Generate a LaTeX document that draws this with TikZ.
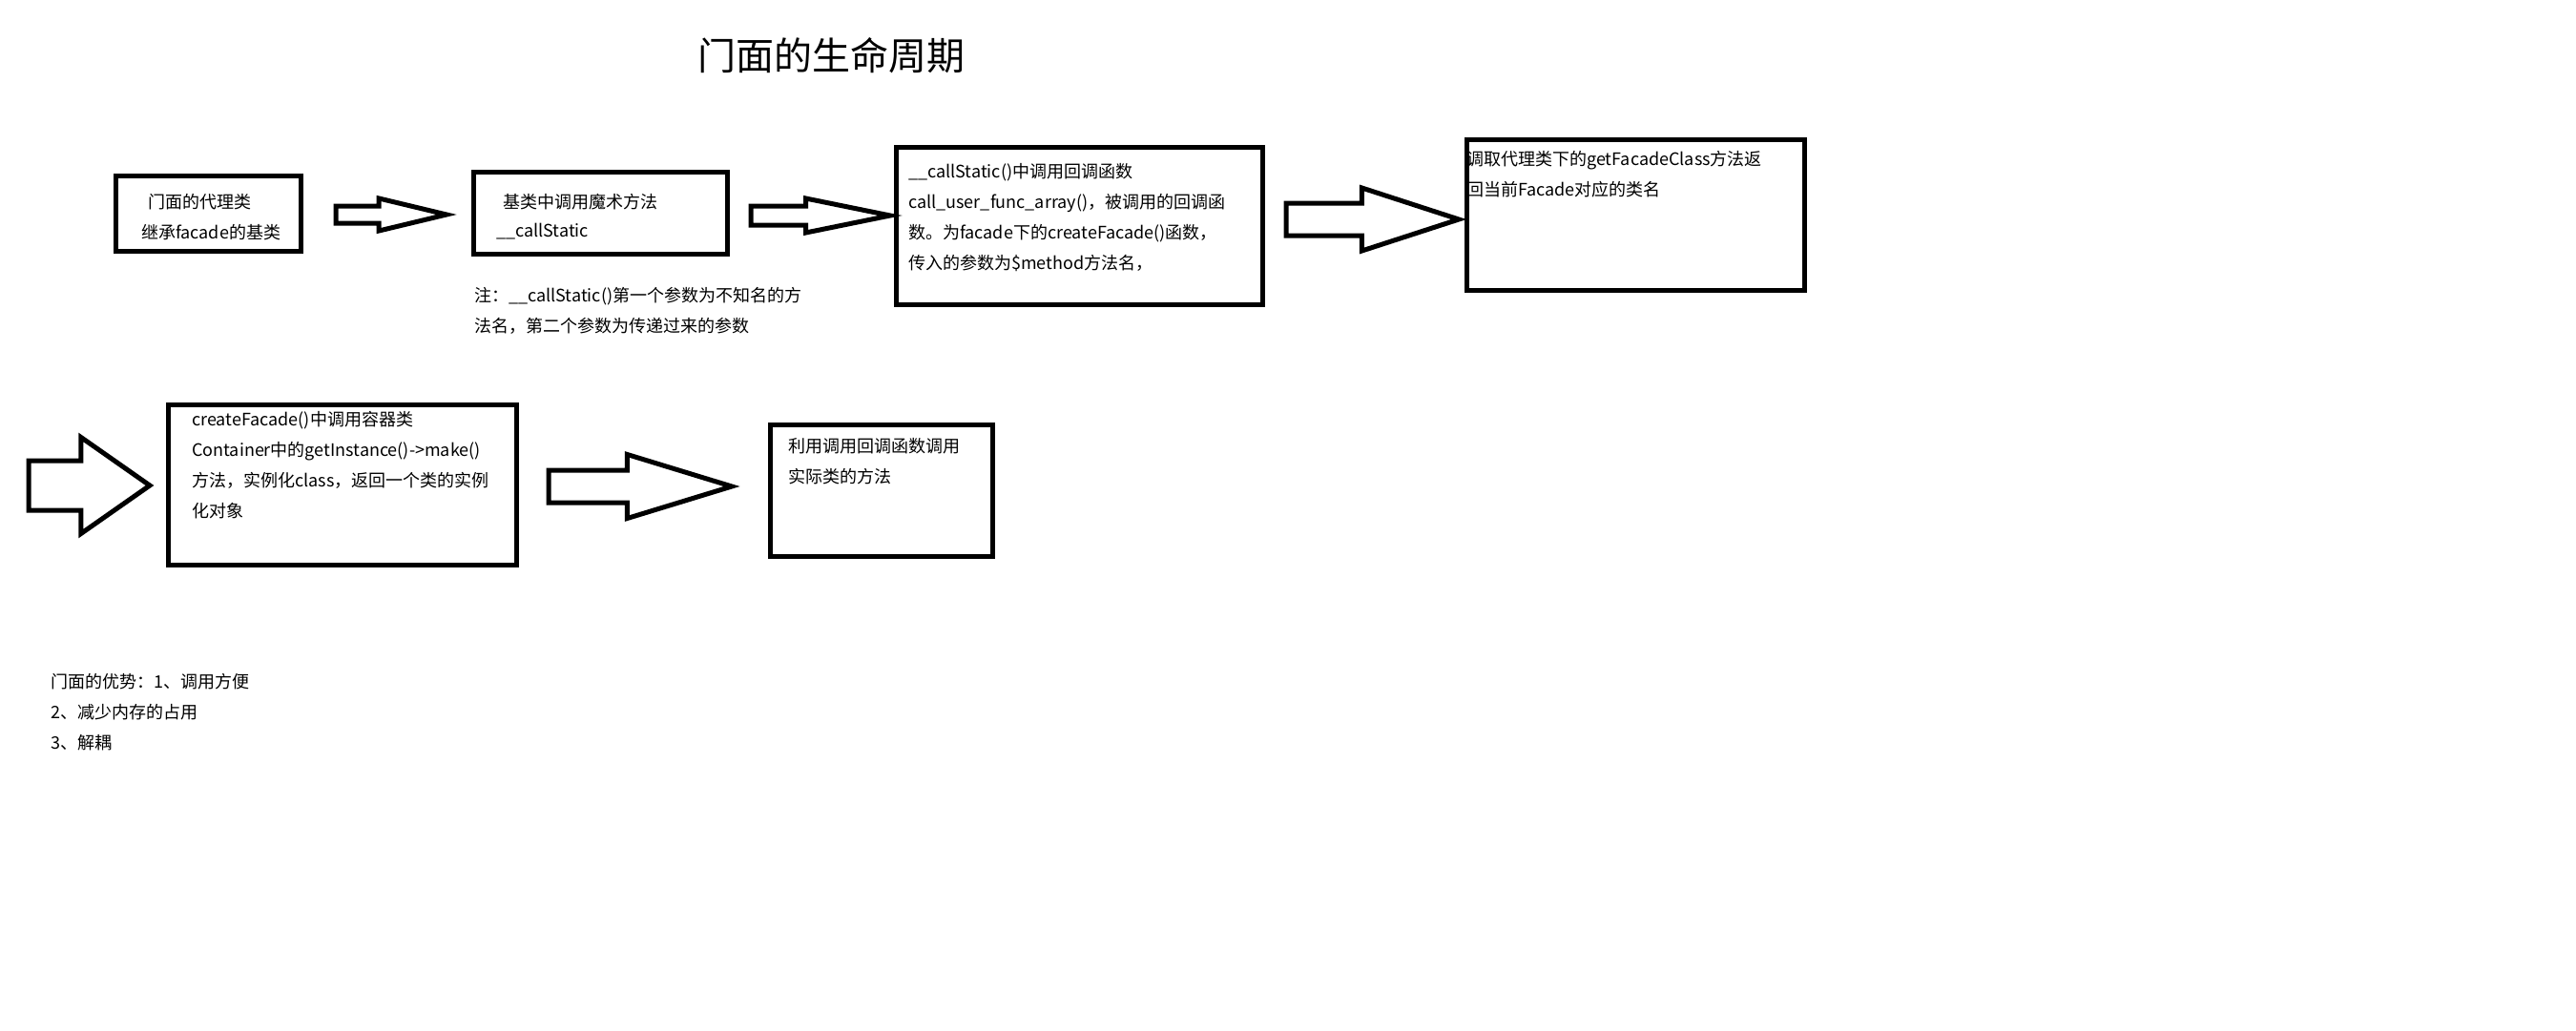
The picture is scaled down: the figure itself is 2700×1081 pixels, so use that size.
\documentclass[tikz,border=0pt]{standalone}
\usepackage{fontspec}
\setmainfont{Noto Sans CJK SC}
\usetikzlibrary{shapes.arrows}

\begin{document}
\begin{tikzpicture}[
      x=1pt, y=-1pt,
      box/.style={rectangle, draw=black, line width=5pt, inner sep=0pt},
      txt/.style={anchor=north west, inner sep=0pt, align=left, font=\fontsize{18}{32}\selectfont},
      bigarrow/.style n args={4}{single arrow, draw=black, line width=5pt, anchor=tail, inner xsep=0pt,
        minimum width=1pt, minimum height=#1, inner ysep=#2, single arrow head extend=#3, single arrow tip angle=#4}
    ]
    \useasboundingbox[fill=white] (0,0) rectangle (2700,1081);

    \node (title) at (871.5,58) {\fontsize{40}{48}\selectfont 门面的生命周期};

    \node[box, minimum width=194pt, minimum height=79pt] (proxy) at (218.5,224) {};
    \node[box, minimum width=266pt, minimum height=86pt] (magic) at (629.5,223.5) {};
    \node[box, minimum width=384pt, minimum height=165pt] (callback) at (1131.5,237) {};
    \node[box, minimum width=354pt, minimum height=158pt] (getclass) at (1714.5,225.5) {};
    \node[box, minimum width=365pt, minimum height=168pt] (container) at (359,508.5) {};
    \node[box, minimum width=233pt, minimum height=138pt] (real) at (924,514.5) {};

    \node[txt] (proxytxt) at (148,203) {\hspace*{7pt}门面的代理类\\继承facade的基类};
    \node[txt] (magictxt) at (520,203) {\hspace*{7pt}基类中调用魔术方法\\[-2pt]\_\_callStatic};
    \node[txt] (note) at (497,301) {注：\_\_callStatic()第一个参数为不知名的方\\法名，第二个参数为传递过来的参数};
    \node[txt] (callbacktxt) at (952,171) {\_\_callStatic()中调用回调函数\\call\_user\_func\_array()，被调用的回调函\\数。为facade下的createFacade()函数，\\传入的参数为\$method方法名，};
    \node[txt] (getclasstxt) at (1537,158) {调取代理类下的getFacadeClass方法返\\回当前Facade对应的类名};
    \node[txt] (containertxt) at (201,431) {createFacade()中调用容器类\\Container中的getInstance()->make()\\方法，实例化class，返回一个类的实例\\化对象};
    \node[txt] (realtxt) at (826,459) {利用调用回调函数调用\\实际类的方法};
    \node[txt] (merits) at (53,706) {门面的优势：1、调用方便\\2、减少内存的占用\\3、解耦};

    \node[bigarrow={116pt}{6.5pt}{8pt}{27}] (a1) at (349.5,225) {};
    \node[bigarrow={146pt}{7.5pt}{8pt}{23}] (a2) at (784.5,226) {};
    \node[bigarrow={181pt}{14.5pt}{16pt}{36}] (a3) at (1345.5,230) {};
    \node[bigarrow={127pt}{23.5pt}{24.5pt}{70}] (a4) at (27.5,509) {};
    \node[bigarrow={192pt}{14.5pt}{16.5pt}{34}] (a5) at (572.5,510) {};
  \end{tikzpicture}
\end{document}
